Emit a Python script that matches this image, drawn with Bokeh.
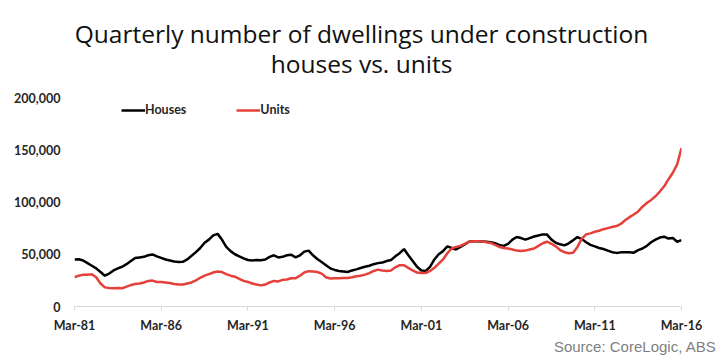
from bokeh.plotting import figure
from bokeh.models import (Range1d, FixedTicker, NumeralTickFormatter, Legend, LegendItem, Label, Title)
from bokeh.embed import file_html
from bokeh.resources import INLINE

# ---- data (thousands of dwellings under construction, quarterly Mar-81 .. Mar-16) ----
houses = [
    45.0, 45.2, 44.0, 41.5, 39.0, 36.5, 33.0, 29.5, 31.5, 34.5,
    36.5, 38.0, 40.5, 43.5, 46.5, 47.0, 47.5, 49.0, 49.8, 48.0,
    46.5, 45.0, 44.0, 43.0, 42.5, 42.8, 45.0, 48.5, 52.0, 56.0,
    61.0, 64.0, 68.0, 69.5, 64.0, 57.0, 53.0, 50.0, 48.0, 46.0,
    44.5, 44.0, 44.5, 44.2, 45.0, 47.5, 49.0, 47.0, 47.5, 49.0,
    49.5, 47.0, 49.0, 52.5, 53.5, 49.0, 45.5, 42.5, 39.5, 36.5,
    35.0, 34.0, 33.5, 33.0, 34.5, 35.5, 36.8, 38.0, 39.0, 40.5,
    41.5, 42.0, 43.5, 44.5, 48.0, 51.0, 55.0, 49.0, 43.5, 38.0,
    34.5, 34.0, 38.0, 45.0, 50.0, 53.0, 57.5, 56.0, 54.5, 57.0,
    59.5, 62.0, 62.5, 62.5, 62.3, 62.0, 61.5, 60.5, 59.0, 58.0,
    60.0, 64.0, 66.5, 65.5, 64.0, 65.5, 67.0, 68.0, 69.0, 68.8,
    64.0, 61.0, 59.5, 58.5, 60.5, 63.5, 66.5, 64.5, 61.5, 59.0,
    57.5, 56.0, 55.0, 53.5, 52.0, 51.3, 51.8, 52.0, 51.8, 51.5,
    54.0, 55.5, 58.0, 61.5, 64.0, 66.0, 66.8, 65.0, 65.5, 62.0,
    63.5,
]
units = [
    28.0, 29.5, 30.5, 30.5, 30.8, 28.0, 22.0, 18.3, 17.8, 17.5,
    17.8, 17.5, 19.0, 20.5, 21.5, 22.0, 23.0, 24.5, 24.8, 23.5,
    23.5, 23.0, 22.5, 21.5, 21.0, 21.0, 22.0, 23.0, 25.0, 27.5,
    29.5, 31.0, 32.5, 33.5, 33.0, 31.0, 29.5, 28.5, 26.5, 24.5,
    23.5, 22.0, 21.0, 20.2, 21.0, 23.0, 24.5, 24.0, 25.5, 25.8,
    27.0, 27.0, 29.5, 32.5, 33.8, 33.5, 33.0, 31.5, 28.0, 26.8,
    27.0, 27.0, 27.2, 27.2, 28.0, 29.0, 29.5, 30.5, 32.0, 34.0,
    35.3, 34.5, 34.0, 34.5, 37.5, 39.5, 39.5, 37.0, 34.5, 32.5,
    32.0, 32.0, 34.0, 37.0, 41.0, 45.0, 51.0, 55.5, 57.0, 58.0,
    60.0, 62.0, 62.5, 62.5, 62.3, 61.5, 60.8, 59.0, 57.0, 56.0,
    55.5, 54.5, 53.5, 53.0, 53.5, 54.5, 55.5, 58.0, 60.5, 62.0,
    60.0, 57.5, 54.0, 52.0, 51.0, 51.5, 57.0, 65.0, 69.0, 70.0,
    71.5, 72.5, 74.0, 75.0, 76.0, 77.0, 79.0, 82.5, 85.5, 88.0,
    91.0, 95.5, 99.0, 102.0, 105.5, 110.0, 115.0, 121.8, 128.0, 136.0,
    151.6,
]
tick_labels = ["Mar-81", "Mar-86", "Mar-91", "Mar-96", "Mar-01", "Mar-06", "Mar-11", "Mar-16"]
y_ticks = [0, 50000, 100000, 150000, 200000]
title_lines = ["Quarterly number of dwellings under construction", "houses vs. units"]
source_text = "Source: CoreLogic, ABS"

quarters = list(range(len(houses)))
houses_v = [v * 1000 for v in houses]
units_v = [v * 1000 for v in units]
x_ticks = [i * 20 for i in range(len(tick_labels))]

# ---- layout constants (pixels) ----
W, H = 724, 357
FL, FR, FB = 74, 681, 306   # frame left/right/bottom
Y200 = 97                   # pixel row of the 200,000 tick
Y_TOP = 200000 * FB / (FB - Y200)   # frame extends to top of canvas

p = figure(width=W, height=H, output_backend="svg", toolbar_location=None,
           x_range=Range1d(0, len(houses) - 1), y_range=Range1d(0, Y_TOP),
           min_border_left=FL, min_border_right=W - FR,
           min_border_top=0, min_border_bottom=H - FB)
p.title.visible = False
p.outline_line_color = None
p.xgrid.visible = False
p.ygrid.visible = False
p.background_fill_color = "white"
p.border_fill_color = "white"

AX_FONT = "Lato"
p.xaxis.ticker = FixedTicker(ticks=x_ticks)
p.xaxis.major_label_overrides = {t: l for t, l in zip(x_ticks, tick_labels)}
p.xaxis.axis_line_color = "#d9d9d9"
p.xaxis.major_tick_line_color = "#d9d9d9"
p.xaxis.major_tick_out = 4
p.xaxis.major_tick_in = 0
p.xaxis.minor_tick_line_color = None
p.xaxis.major_label_standoff = 7
p.xaxis.major_label_text_font = AX_FONT
p.xaxis.major_label_text_font_style = "bold"
p.xaxis.major_label_text_font_size = "12.5px"
p.xaxis.major_label_text_color = "#262626"

p.yaxis.ticker = FixedTicker(ticks=y_ticks)
p.yaxis.formatter = NumeralTickFormatter(format="0,0")
p.yaxis.axis_line_color = None
p.yaxis.major_tick_line_color = None
p.yaxis.major_tick_out = 0
p.yaxis.major_tick_in = 0
p.yaxis.minor_tick_line_color = None
p.yaxis.major_label_standoff = 14
p.yaxis.major_label_text_font = AX_FONT
p.yaxis.major_label_text_font_style = "bold"
p.yaxis.major_label_text_font_size = "12.5px"
p.yaxis.major_label_text_color = "#262626"

r_h = p.line(quarters, houses_v, line_color="black", line_width=2.5)
r_u = p.line(quarters, units_v, line_color="#e5403a", line_width=2.5)

legend = Legend(items=[LegendItem(label="Houses", renderers=[r_h]),
                       LegendItem(label="Units", renderers=[r_u])],
                orientation="horizontal", location=(47, FB - 117),
                padding=0, margin=0, spacing=50, label_standoff=0,
                glyph_width=24, glyph_height=14, label_height=14,
                border_line_color=None, background_fill_alpha=0,
                label_text_font=AX_FONT, label_text_font_style="bold",
                label_text_font_size="12.5px", label_text_color="#262626")
p.add_layout(legend, "center")

def y_at(py):
    return (FB - py) * 200000 / (FB - Y200)

def x_at(px):
    return (px - FL) * (len(houses) - 1) / (FR - FL)

for txt, base in zip(title_lines, [33, 63]):
    p.add_layout(Label(x=x_at(361), y=y_at(base), text=txt, text_align="center",
                       text_baseline="alphabetic", text_font="Open Sans",
                       text_font_size="24.5px", text_color="#111111"))

p.add_layout(Title(text=source_text, align="right", offset=-35, standoff=0,
                   text_font="Liberation Sans", text_font_size="15px",
                   text_font_style="normal", text_color="#7f7f7f"), "below")

open("out.html", "w").write(file_html(p, INLINE))
